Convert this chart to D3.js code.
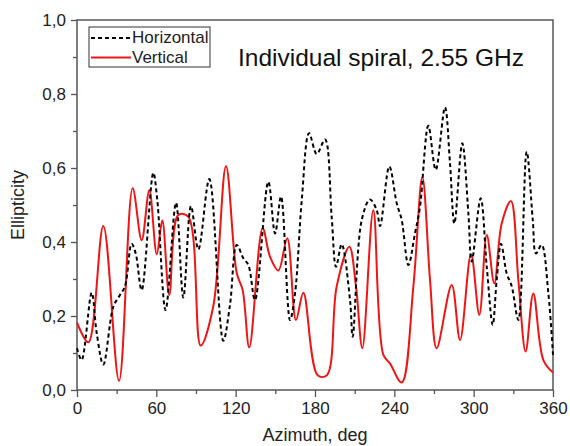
<!DOCTYPE html>
<html><head><meta charset="utf-8">
<script src="https://cdn.jsdelivr.net/npm/d3@7"></script>
<style>
html,body{margin:0;padding:0;background:#fff;}
svg{display:block;font-family:"Liberation Sans",Arial,sans-serif;}
</style></head>
<body>
<svg id="chart" width="570" height="446"></svg>
<script>
// Data (azimuth deg, ellipticity)
const hAz  = [0,3.5,11.1,14.9,19.9,27.5,32.5,36.3,41.3,44.4,48.9,57.7,60.7,67,74.9,80.4,86.2,91.8,100.1,110.6,115.7,120.8,125.8,129.6,134.6,144.7,149.8,154.3,161.1,164.9,170,175.5,181.3,187.6,192.6,195.9,200.2,206.5,208.5,215.3,221.6,226.7,229.2,236.2,241.8,245.6,250.6,255.6,259.4,265.7,271.3,278.3,282.1,285.4,291.4,296,298.5,305.3,309.9,314.4,317.4,320.7,325,328.8,333.8,340.1,344.7,347.1,351.4,356.5,360];
const hVal = [0.113,0.081,0.263,0.154,0.069,0.225,0.257,0.28,0.395,0.369,0.27,0.587,0.514,0.216,0.506,0.25,0.497,0.38,0.57,0.133,0.23,0.392,0.356,0.338,0.243,0.563,0.423,0.523,0.189,0.261,0.514,0.694,0.638,0.677,0.468,0.333,0.394,0.243,0.144,0.459,0.515,0.486,0.443,0.604,0.505,0.459,0.338,0.423,0.495,0.714,0.595,0.764,0.613,0.45,0.667,0.477,0.347,0.518,0.333,0.176,0.297,0.395,0.315,0.28,0.189,0.644,0.459,0.369,0.392,0.261,0.095];
const vAz  = [0,8.6,19.9,31.8,42.1,48.9,54.7,60.3,64.5,69.8,76.6,84.2,93.5,103,112.7,120.8,125.3,130.3,140.4,146,152.3,159,165.6,171.2,182,189,196.4,206,211,215.8,224.1,231.7,236.7,245.6,254.4,261.2,267,272,283.4,289.7,298,304.3,309.9,315.6,321.2,328.2,333.8,339.3,345.1,352.7,360];
const vVal = [0.182,0.129,0.443,0.025,0.545,0.405,0.54,0.367,0.458,0.257,0.473,0.468,0.12,0.225,0.605,0.316,0.27,0.115,0.437,0.36,0.323,0.41,0.189,0.263,0.04,0.04,0.28,0.387,0.28,0.113,0.486,0.095,0.072,0.02,0.28,0.575,0.297,0.113,0.284,0.135,0.367,0.203,0.419,0.288,0.45,0.511,0.297,0.104,0.261,0.081,0.047];
const xTicks = [0,60,120,180,240,300,360];
const xMinor = [30,90,150,210,270,330];
const yTicks = [0,0.2,0.4,0.6,0.8,1.0];
const yMinor = [0.1,0.3,0.5,0.7,0.9];
const seriesNames = ["Horizontal","Vertical"];
const titleText = "Individual spiral, 2.55 GHz";
const xLabel = "Azimuth, deg";
const yLabel = "Ellipticity";

const svg = d3.select("#chart");
const L = 77, R = 553, T = 20, B = 390;
const x = d3.scaleLinear().domain([0,360]).range([L,R]);
const y = d3.scaleLinear().domain([0,1]).range([B,T]);
const axisCol = "#555";
const fmt = v => d3.format(".1f")(v).replace(".", ",");

// frame
svg.append("rect").attr("x",L).attr("y",T).attr("width",R-L).attr("height",B-T)
  .attr("fill","none").attr("stroke",axisCol).attr("stroke-width",1.5);

// axes
const xAx = svg.append("g").attr("transform",`translate(0,${B})`)
  .call(d3.axisBottom(x).tickValues(xTicks).tickSize(7).tickPadding(5).tickFormat(d3.format("d")));
const xAxm = svg.append("g").attr("transform",`translate(0,${B})`)
  .call(d3.axisBottom(x).tickValues(xMinor).tickSize(4).tickFormat(""));
const yAx = svg.append("g").attr("transform",`translate(${L},0)`)
  .call(d3.axisLeft(y).tickValues(yTicks).tickSize(6).tickPadding(5).tickFormat(fmt));
const yAxm = svg.append("g").attr("transform",`translate(${L},0)`)
  .call(d3.axisLeft(y).tickValues(yMinor).tickSize(4).tickFormat(""));
[xAx,xAxm,yAx,yAxm].forEach(g=>{
  g.select(".domain").remove();
  g.selectAll("line").attr("stroke",axisCol).attr("stroke-width",1.3);
  g.selectAll("text").attr("fill","#222").style("font-size","17px")
   .style("font-family",'"Liberation Sans",Arial,sans-serif');
});
xAx.selectAll("text").attr("dy","0.71em");

// lines
const line = d3.line().x(d=>x(d[0])).y(d=>y(d[1])).curve(d3.curveCatmullRom.alpha(0.5));
const hData = hAz.map((a,i)=>[a,hVal[i]]);
const vData = vAz.map((a,i)=>[a,vVal[i]]);
svg.append("path").datum(vData).attr("d",line).attr("fill","none")
  .attr("stroke","#f01515").attr("stroke-width",2);
svg.append("path").datum(hData).attr("d",line).attr("fill","none")
  .attr("stroke","#000").attr("stroke-width",2).attr("stroke-dasharray","4,3");

// legend
const lg = svg.append("g");
lg.append("rect").attr("x",89).attr("y",27).attr("width",121).attr("height",40)
  .attr("fill","#fff").attr("stroke","#333").attr("stroke-width",1);
lg.append("line").attr("x1",91).attr("x2",131).attr("y1",38).attr("y2",38)
  .attr("stroke","#000").attr("stroke-width",2).attr("stroke-dasharray","4,3");
lg.append("line").attr("x1",91).attr("x2",131).attr("y1",57.5).attr("y2",57.5)
  .attr("stroke","#f01515").attr("stroke-width",2);
lg.append("text").attr("x",132).attr("y",43).text(seriesNames[0]).style("font-size","17px").attr("fill","#222");
lg.append("text").attr("x",132).attr("y",63).text(seriesNames[1]).style("font-size","17px").attr("fill","#222");

// title
svg.append("text").attr("x",238).attr("y",66).text(titleText)
  .style("font-size","24.5px").attr("fill","#111");

// axis labels
svg.append("text").attr("x",(L+R)/2).attr("y",441).attr("text-anchor","middle")
  .text(xLabel).style("font-size","18px").attr("fill","#222");
svg.append("text").attr("transform",`translate(24,${(T+B)/2}) rotate(-90)`)
  .attr("text-anchor","middle").text(yLabel).style("font-size","18px").attr("fill","#222");
</script>
</body></html>
